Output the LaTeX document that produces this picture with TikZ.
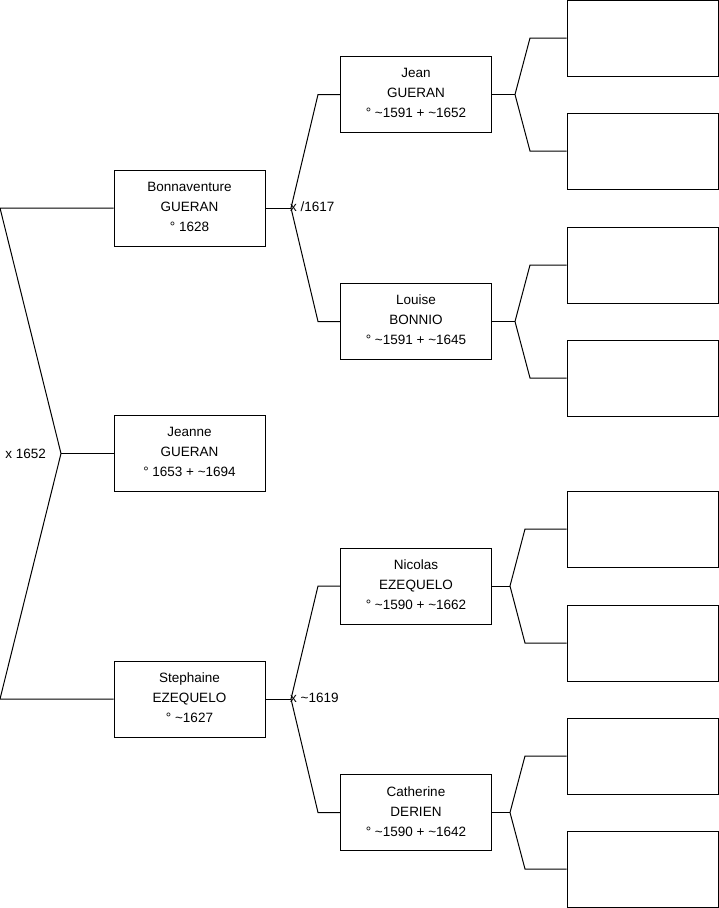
\documentclass[tikz,border=0pt]{standalone}
\usepackage{fontspec}
\setmainfont{Liberation Sans}
\usetikzlibrary{positioning}
\tikzset{pbox/.style={
    rectangle,
    draw,
    line width=1pt,
    align=center,
    inner sep=0pt,
    minimum height=76pt,
    minimum width=151pt,
    font=\fontsize{13.5}{20}\selectfont
  },
  ebox/.style={pbox},
  link/.style={line width=1pt},
  mlabel/.style={inner sep=0pt,font=\fontsize{13.5}{20}\selectfont},
}
\begin{document}
\begin{tikzpicture}[x=1pt,y=-1pt]
  \useasboundingbox (0,0) rectangle (719,908);
  % generation 1 and 2
  \node [pbox] (bonn) at (189.5,208) {Bonnaventure\\GUERAN\\\textdegree{} 1628\vphantom{p}};
  \node [pbox] (jeanne) at (189.5,453.5) {Jeanne\\GUERAN\\\textdegree{} 1653 + \textasciitilde1694\vphantom{p}};
  \node [pbox] (steph) at (189.5,699) {Stephaine\\EZEQUELO\\\textdegree{} \textasciitilde1627\vphantom{p}};
  % generation 3
  \node [pbox] (jean) at (416,94.5) {Jean\\GUERAN\\\textdegree{} \textasciitilde1591 + \textasciitilde1652\vphantom{p}};
  \node [pbox] (louise) at (416,321.5) {Louise\\BONNIO\\\textdegree{} \textasciitilde1591 + \textasciitilde1645\vphantom{p}};
  \node [pbox] (nicolas) at (416,586) {Nicolas\\EZEQUELO\\\textdegree{} \textasciitilde1590 + \textasciitilde1662\vphantom{p}};
  \node [pbox] (cath) at (416,812.5) {Catherine\\DERIEN\\\textdegree{} \textasciitilde1590 + \textasciitilde1642\vphantom{p}};
  % generation 4 (empty)
  \node [ebox] (e1) at (642.5,38) {};
  \node [ebox] (e2) at (642.5,151) {};
  \node [ebox] (e3) at (642.5,265) {};
  \node [ebox] (e4) at (642.5,378) {};
  \node [ebox] (e5) at (642.5,529) {};
  \node [ebox] (e6) at (642.5,643) {};
  \node [ebox] (e7) at (642.5,756) {};
  \node [ebox] (e8) at (642.5,869) {};

  \coordinate (r0) at (0,208);
  \coordinate (rj) at (61,453.5);
  \coordinate (r1) at (0,699);
  \draw [link] (bonn.west) -- (r0) -- (rj) -- (r1) -- (steph.west);
  \draw [link] (rj) -- (jeanne.west);
  \node [mlabel,left=15pt of rj] (m0) {x 1652};

  \coordinate (bj) at (291,208);
  \coordinate (bu) at (318,94.5);
  \coordinate (bd) at (318,321.5);
  \draw [link] (bonn.east) -- (bj);
  \draw [link] (jean.west) -- (bu) -- (bj) -- (bd) -- (louise.west);
  \node [mlabel,anchor=west] (m1) at ([xshift=-1pt,yshift=1pt]bj) {x /1617};

  \coordinate (sj) at (291,699);
  \coordinate (su) at (318,586);
  \coordinate (sd) at (318,812.5);
  \draw [link] (steph.east) -- (sj);
  \draw [link] (nicolas.west) -- (su) -- (sj) -- (sd) -- (cath.west);
  \node [mlabel,anchor=west] (m2) at ([xshift=-1pt,yshift=1pt]sj) {x \textasciitilde1619};

  \coordinate (jj) at (515,94.5);
  \coordinate (lj) at (515,321.5);
  \coordinate (nj) at (510,586);
  \coordinate (cj) at (510,812.5);
  \draw [link] (jean.east) -- (jj);
  \draw [link] (e1.west) -- (530,38) -- (jj) -- (530,151) -- (e2.west);
  \draw [link] (louise.east) -- (lj);
  \draw [link] (e3.west) -- (530,265) -- (lj) -- (530,378) -- (e4.west);
  \draw [link] (nicolas.east) -- (nj);
  \draw [link] (e5.west) -- (525,529) -- (nj) -- (525,643) -- (e6.west);
  \draw [link] (cath.east) -- (cj);
  \draw [link] (e7.west) -- (525,756) -- (cj) -- (525,869) -- (e8.west);
\end{tikzpicture}
\end{document}
